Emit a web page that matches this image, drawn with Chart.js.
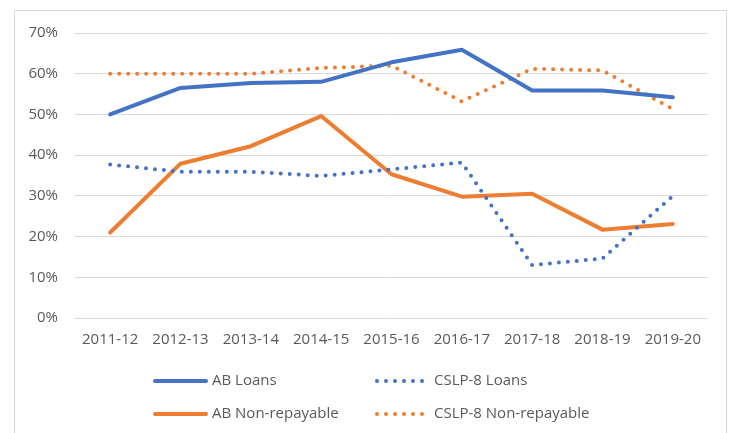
<!DOCTYPE html>
<html>
<head>
<meta charset="utf-8">
<script src="https://cdn.jsdelivr.net/npm/chart.js@4"></script>
<style>
html, body { margin: 0; padding: 0; background: #fff; overflow: hidden; }
#wrap { position: relative; width: 730px; height: 433px; }
#frame { position: absolute; left: 14px; top: 10px; width: 713px; height: 440px; border: 1px solid #d9d9d9; box-sizing: border-box; }
canvas { position: absolute; left: 0; top: 0; }
</style>
</head>
<body>
<div id="wrap">
  <div id="frame"></div>
  <canvas id="chart" width="730" height="433"></canvas>
</div>
<script>
var categories = ['2011-12', '2012-13', '2013-14', '2014-15', '2015-16', '2016-17', '2017-18', '2018-19', '2019-20'];
var abLoans = [50, 56.5, 57.7, 58, 62.8, 65.9, 55.9, 55.9, 54.2];
var cslpLoans = [37.7, 35.9, 35.9, 34.9, 36.5, 38.2, 13, 14.6, 30];
var abNonRepay = [21, 37.9, 42.2, 49.6, 35.3, 29.8, 30.5, 21.7, 23.1];
var cslpNonRepay = [60, 60, 60, 61.4, 62, 53.2, 61.2, 60.8, 51.3];
var yTicks = [0, 10, 20, 30, 40, 50, 60, 70];

var BLUE = '#4472C4';
var ORANGE = '#ED7D31';
var TEXT = '#595959';
var FONT = '"Open Sans", sans-serif';

// legend laid out as a 2x2 grid like the Excel original
var gridLegend = {
    id: 'gridLegend',
    afterDraw: function(chart) {
        var ctx = chart.ctx;
        var cols = [155, 377];
        var rows = [381, 414];
        ctx.save();
        chart.data.datasets.forEach(function(ds, k) {
            var x = cols[k % 2], y = rows[Math.floor(k / 2)];
            ctx.beginPath();
            ctx.strokeStyle = ds.borderColor;
            ctx.lineWidth = ds.borderWidth;
            ctx.lineCap = 'round';
            ctx.setLineDash(ds.borderDash || []);
            ctx.moveTo(x, y);
            ctx.lineTo(x + 51, y);
            ctx.stroke();
            ctx.setLineDash([]);
            ctx.fillStyle = TEXT;
            ctx.font = '15px ' + FONT;
            ctx.textBaseline = 'middle';
            ctx.fillText(ds.label, x + 57, y);
        });
        ctx.restore();
    }
};

function line(label, data, color, dotted) {
    return {
        label: label,
        data: data,
        borderColor: color,
        backgroundColor: color,
        borderWidth: 4,
        borderDash: dotted ? [0, 9] : [],
        borderCapStyle: 'round',
        borderJoinStyle: 'round',
        pointRadius: 0,
        tension: 0,
        fill: false
    };
}

new Chart(document.getElementById('chart'), {
    type: 'line',
    data: {
        labels: categories,
        datasets: [
            line('AB Loans', abLoans, BLUE, false),
            line('CSLP-8 Loans', cslpLoans, BLUE, true),
            line('AB Non-repayable', abNonRepay, ORANGE, false),
            line('CSLP-8 Non-repayable', cslpNonRepay, ORANGE, true)
        ]
    },
    options: {
        responsive: false,
        animation: false,
        layout: { padding: { left: 0, right: 22, top: 33, bottom: 0 } },
        plugins: {
            legend: { display: false },
            tooltip: { enabled: false }
        },
        scales: {
            x: {
                offset: true,
                grid: { display: false, drawTicks: false },
                border: { display: false },
                ticks: { color: TEXT, font: { family: FONT, size: 15 }, padding: 13, maxRotation: 0 },
                afterFit: function(s) { s.height = 115; }
            },
            y: {
                min: 0,
                max: 70,
                afterBuildTicks: function(s) { s.ticks = yTicks.map(function(v) { return { value: v }; }); },
                grid: { color: '#d9d9d9', lineWidth: 1, drawTicks: false },
                border: { display: false },
                ticks: {
                    color: TEXT,
                    font: { family: FONT, size: 15 },
                    padding: 17,
                    callback: function(v) { return v + '%'; }
                },
                afterFit: function(s) { s.width = 75; }
            }
        }
    },
    plugins: [gridLegend]
});
</script>
</body>
</html>
